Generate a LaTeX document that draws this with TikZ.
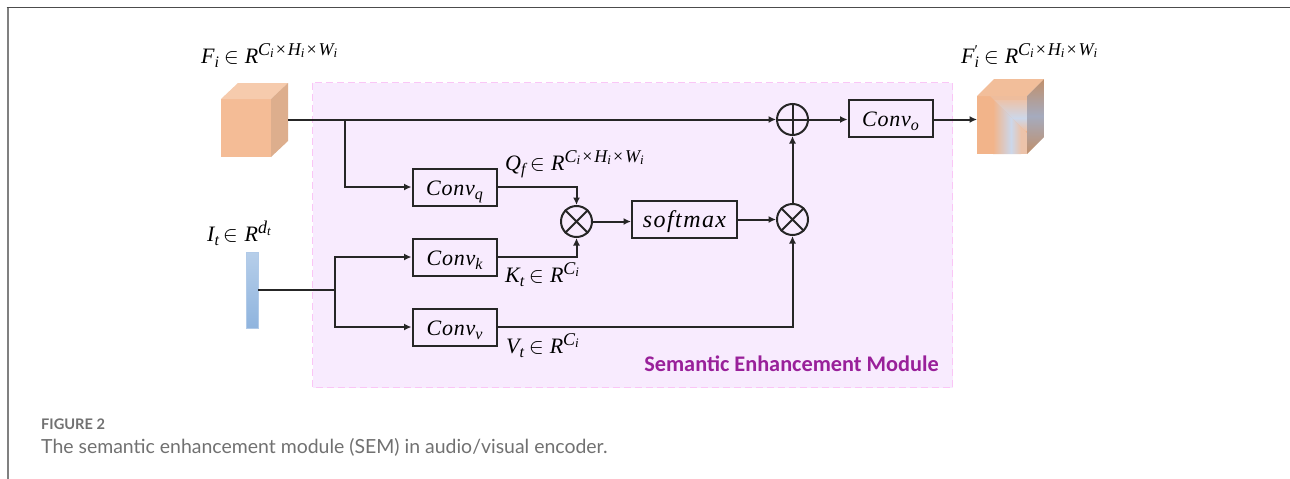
\documentclass[tikz,border=0pt]{standalone}
\usepackage{fontspec}
\usepackage{unicode-math}
\setmainfont{Lato}
\setmathfont{Latin Modern Math}
\newfontfamily\lsf[LetterSpace=3.5]{Liberation Serif}
\newfontfamily\lsfw[LetterSpace=6]{Liberation Serif}
\newfontfamily\modfont{Carlito}
% hand-set indices, so that their height and size follow the reference
\newcommand{\subb}[1]{\raisebox{-4pt}{\fontsize{16}{16}\selectfont #1}}
\newcommand{\subs}[1]{\raisebox{-2.5pt}{\fontsize{13}{13}\selectfont #1}}
\newcommand{\supp}[1]{\raisebox{8pt}{\fontsize{18}{18}\selectfont #1}}
\newcommand{\isin}{\hspace{5pt}{\fontsize{22}{22}\selectfont$\in$}\hspace{6pt}}
\newcommand{\timesx}{{\upshape\hspace{2pt}×\hspace{2pt}}}
\newcommand{\mv}[1]{{\lsf\itshape #1}}
\newcommand{\dims}{\supp{C\subs{i}\timesx H\subs{i}\timesx W\subs{i}}}
\newcommand{\dimc}{\supp{C\subs{i}}}
\usetikzlibrary{arrows.meta,calc}
\definecolor{panel}{HTML}{F8EBFE}
\definecolor{panelline}{HTML}{FAC6F6}
\definecolor{modtext}{HTML}{99209A}
\definecolor{capgray}{HTML}{717171}
\definecolor{boxfront}{HTML}{F4BC96}
\definecolor{boxtop}{HTML}{F6CBAD}
\definecolor{boxside}{HTML}{DDAE8D}
\definecolor{barblue}{HTML}{8FB4DE}
\definecolor{oo}{HTML}{F2B48A}
\definecolor{oi}{HTML}{ECC3AA}
\definecolor{ob}{HTML}{CCD7EA}
\definecolor{ot}{HTML}{F2BE9A}
\definecolor{os}{HTML}{C08F6B}
\definecolor{osb}{HTML}{A5ABBE}
\tikzset{
  x=1pt,y=-1pt,
  conv/.style={draw=black!85,line width=2pt,inner sep=0pt,minimum width=84pt,minimum height=37pt,text height=16pt,text depth=0pt,font=\fontsize{22}{24}\selectfont},
  opc/.style={draw=black!85,line width=2pt,circle,minimum size=31pt,inner sep=0pt},
  wire/.style={line width=2pt,black!85},
  arr/.style={wire,-{Latex[length=7.5pt,width=7pt]}},
  mlabel/.style={inner sep=0pt,anchor=base west,font=\fontsize{22}{24}\selectfont},
  caph/.style={inner sep=0pt,anchor=base west,text=capgray},
}
\begin{document}
\begin{tikzpicture}
\useasboundingbox (0,0) rectangle (1290,479);
\fill[white] (0,0) rectangle (1290,479);
\draw[line width=2pt,black!50] (7.5,479) -- (7.5,7.5);
\draw[line width=1.4pt,black!70] (6.5,7.5) -- (1290,7.5);
\draw[panelline,fill=panel,line width=1.4pt,dash pattern=on 7pt off 4pt] (312.5,82.5) rectangle (952.5,387.5);
% input cube
\fill[boxfront] (221,99) rectangle (271,157);
\fill[boxtop] (221,99) -- (238,83) -- (288,83) -- (271,99) -- cycle;
\fill[boxside] (271,99) -- (288,83) -- (288,141) -- (271,157) -- cycle;
\coordinate (fin) at (288,119.5);
% output cube
\fill[oo] (977,96) rectangle (1027,154);
\begin{scope}
\clip (977,96) -- (990,96) -- (1027,133) -- (1027,154) -- (977,154) -- cycle;
\shade[left color=oo,right color=ob] (993,96) rectangle (1011,154);
\shade[left color=ob,right color=oi] (1011,96) rectangle (1021,154);
\fill[oi] (1021,96) rectangle (1027,154);
\end{scope}
\begin{scope}
\clip (990,96) -- (1027,96) -- (1027,133) -- cycle;
\shade[top color=oi,bottom color=ob] (977,100) rectangle (1027,118);
\shade[top color=ob,bottom color=oi] (977,118) rectangle (1027,130);
\fill[oi!60!oo] (977,96) rectangle (1027,100);
\end{scope}
\fill[ot] (977,96) -- (994,79) -- (1044,79) -- (1027,96) -- cycle;
\begin{scope}
\clip (1027,96) -- (1044,79) -- (1044,137) -- (1027,154) -- cycle;
\shade[top color=os,bottom color=osb] (1027,79) rectangle (1044,116);
\shade[top color=osb,bottom color=os] (1027,116) rectangle (1044,154);
\end{scope}
\coordinate (fout) at (977,119.5);
% bar
\shade[top color=barblue!65!white,bottom color=barblue] (246,252) rectangle (258,328);
\draw[barblue!70!white,line width=.6pt] (246,252) rectangle (258,328);
\coordinate (bar) at (258,290);
% nodes
\node[conv] (cq) at (454.5,187) {\mv{Conv\subb{q}}\hspace{8pt}};
\node[conv] (ck) at (454.5,257) {\mv{Conv\subb{k}}\hspace{8pt}};
\node[conv] (cv) at (454.5,327) {\mv{Conv\subb{v}}\hspace{8pt}};
\node[conv] (co) at (890.5,118.5) {\mv{Conv\subb{o}}\hspace{8pt}};
\node[conv,minimum width=105pt,font=\fontsize{24}{26}\selectfont] (sm) at (684.5,219) {{\lsfw\itshape softmax}};
\node[opc] (mul1) at (576.5,221.5) {};
\node[opc] (mul2) at (792.5,219.5) {};
\node[opc] (add) at (792.5,119.5) {};
\draw[wire] (mul1.north west) -- (mul1.south east) (mul1.north east) -- (mul1.south west);
\draw[wire] (mul2.north west) -- (mul2.south east) (mul2.north east) -- (mul2.south west);
\draw[wire] (add.north) -- (add.south) (add.west) -- (add.east);
% junctions
\coordinate (j1) at (345,119.5);
\coordinate (j2) at (335,290);
% wires
\draw[arr] (fin) -- (add.west);
\draw[arr] (j1) |- (cq.west);
\draw[wire] (bar) -- (j2);
\draw[arr] (j2) |- (ck.west);
\draw[arr] (j2) |- (cv.west);
\draw[arr] (cq.east) -| (mul1.north);
\draw[arr] (ck.east) -| (mul1.south);
\draw[arr] (mul1.east) -- (mul1.east -| sm.west);
\draw[arr] (sm.east |- mul2.west) -- (mul2.west);
\draw[arr] (mul2.north) -- (add.south);
\draw[arr] (cv.east) -| (mul2.south);
\draw[arr] (add.east) -- (add.east -| co.west);
\draw[arr] (co.east |- fout) -- (fout);
% labels
\node[mlabel] (lf) at (201,63) {\mv{F\subb{i}\isin R\dims}};
\node[mlabel] (lfo) at (961,63) {\mv{F\rlap{\raisebox{8pt}{\upshape\fontsize{15}{15}\selectfont ′}}\subb{i}\isin R\dims}};
\node[mlabel] (li) at (207,241) {\mv{I\subb{t}\isin R\supp{d\subs{t}}}};
\node[mlabel] (lq) at (505,170) {\mv{Q\subb{f}\isin R\dims}};
\node[mlabel] (lk) at (505,282) {\mv{K\subb{t}\isin R\dimc}};
\node[mlabel] (lv) at (506,353) {\mv{V\subb{t}\isin R\dimc}};
\node[inner sep=0pt,anchor=base east,text=modtext,font=\modfont\fontsize{22.3}{24}\selectfont\bfseries] (mod) at (939,371) {Semantic Enhancement Module};
\node[caph,font=\fontsize{14.6}{16}\selectfont\bfseries] (fig) at (41,429) {FIGURE 2};
\node[caph,font=\fontsize{19.45}{22}\selectfont] (cap) at (41,453) {The semantic enhancement module (SEM) in audio/visual encoder.};
\end{tikzpicture}
\end{document}
